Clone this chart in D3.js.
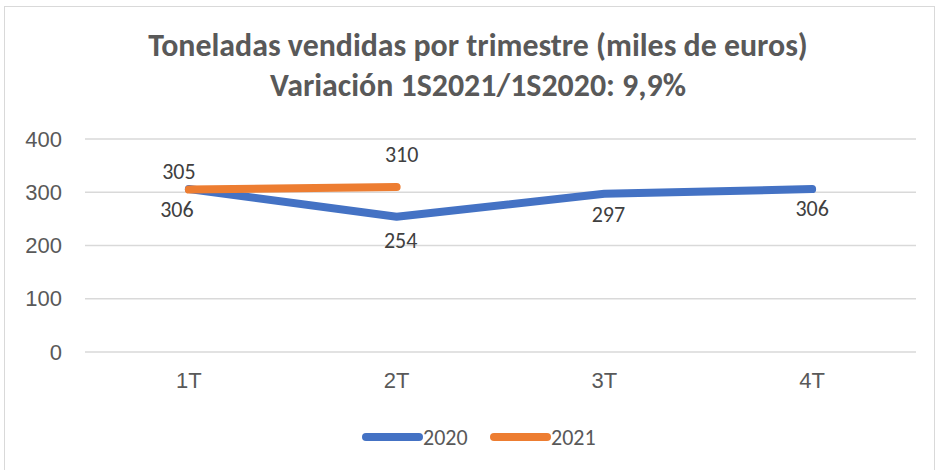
<!DOCTYPE html>
<html><head><meta charset="utf-8">
<script src="https://cdn.jsdelivr.net/npm/d3@7"></script>
<style>body{margin:0;background:#fff;}svg{display:block;font-family:Carlito,Calibri,"Open Sans","Liberation Sans",sans-serif;}</style>
</head><body>
<svg id="c" width="936" height="470"></svg>
<script>
const categories = ["1T","2T","3T","4T"];
const series2020 = [306, 254, 297, 306];
const series2021 = [305, 310];
const yTicks = [0,100,200,300,400];
const titleLines = ["Toneladas vendidas por trimestre (miles de euros)", "Variación 1S2021/1S2020: 9,9%"];
const seriesNames = ["2020","2021"];

const svg = d3.select("#c");
svg.append("rect").attr("x",4.5).attr("y",6.5).attr("width",930).attr("height",470).attr("fill","#fff").attr("stroke","#d9d9d9");

const x = d3.scaleBand().domain(categories).range([85,916]);
const y = d3.scaleLinear().domain([0,400]).range([352,139]);
const cx = d => x(d)+x.bandwidth()/2;
const FS = 22;

// title
const tw = [660, 416];
titleLines.forEach((t,i)=>{
  const el = svg.append("text").attr("x",478).attr("y",[56,96][i]).attr("text-anchor","middle")
    .attr("font-size",24).attr("font-weight","bold").attr("fill","#595959").text(t);
  const w = el.node().getComputedTextLength();
  el.attr("font-size", 24*tw[i]/w);
});

// grid
svg.append("g").selectAll("line").data(yTicks).join("line")
  .attr("x1",85).attr("x2",916).attr("y1",d=>y(d)).attr("y2",d=>y(d))
  .attr("stroke","#d9d9d9").attr("stroke-width",1.3);

// y axis
const yAxis = svg.append("g").attr("transform","translate(85,0)")
  .call(d3.axisLeft(y).tickValues(yTicks).tickSize(0).tickPadding(23));
yAxis.select(".domain").remove();
yAxis.selectAll("text").attr("font-size",FS).attr("fill","#595959").attr("font-family","inherit");

// x axis
const xAxis = svg.append("g").attr("transform","translate(0,352)")
  .call(d3.axisBottom(x).tickSize(0).tickPadding(20));
xAxis.select(".domain").remove();
xAxis.selectAll("text").attr("font-size",FS).attr("fill","#595959").attr("font-family","inherit");

const line = d3.line().x((d,i)=>cx(categories[i])).y(d=>y(d));
svg.append("path").datum(series2020).attr("d",line).attr("fill","none").attr("stroke","#4472C4")
  .attr("stroke-width",8).attr("stroke-linecap","round").attr("stroke-linejoin","round");
svg.append("path").datum(series2021).attr("d",line).attr("fill","none").attr("stroke","#ED7D31")
  .attr("stroke-width",8).attr("stroke-linecap","round").attr("stroke-linejoin","round");

// labels
const off2020 = [[-12,20],[4,24],[4,20],[0,19]];
const off2021 = [[-10,-18],[5,-33]];
function labels(data, offs){
  svg.append("g").selectAll("text").data(data).join("text")
    .attr("x",(d,i)=>cx(categories[i])+offs[i][0]).attr("y",(d,i)=>y(d)+offs[i][1])
    .attr("dy","0.35em").attr("text-anchor","middle").attr("font-size",FS).attr("fill","#404040").text(d=>d);
}
labels(series2020, off2020);
labels(series2021, off2021);

// legend
const leg = [{n:seriesNames[0],c:"#4472C4",x:366},{n:seriesNames[1],c:"#ED7D31",x:494}];
leg.forEach(l=>{
  svg.append("line").attr("x1",l.x).attr("x2",l.x+53).attr("y1",437).attr("y2",437)
    .attr("stroke",l.c).attr("stroke-width",8).attr("stroke-linecap","round");
  svg.append("text").attr("x",l.x+57).attr("y",437).attr("dy","0.35em").attr("font-size",FS).attr("fill","#595959").text(l.n);
});
</script>
</body></html>
